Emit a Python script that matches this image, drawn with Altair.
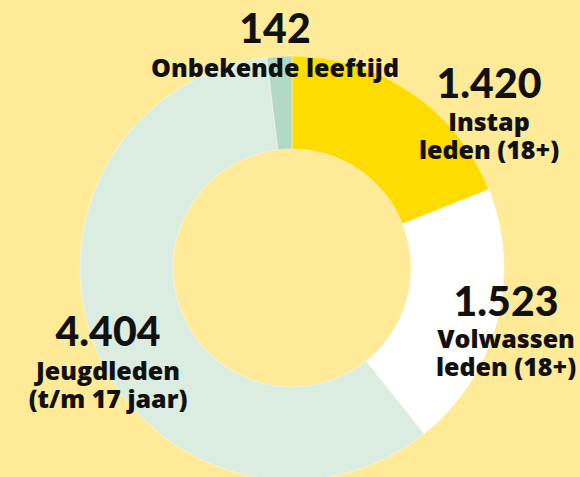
import altair as alt
import pandas as pd

# Data
categories = ["Instap leden (18+)", "Volwassen leden (18+)", "Jeugdleden (t/m 17 jaar)", "Onbekende leeftijd"]
values = [1420, 1523, 4404, 142]
label_lines = [["Instap", "leden (18+)"], ["Volwassen", "leden (18+)"], ["Jeugdleden", "(t/m 17 jaar)"], ["Onbekende leeftijd"]]
colors = ["#FFDC00", "#FFFFFF", "#DBECE1", "#B2D9C6"]

BG = "#FFEA98"
TXT = "#111111"

df = pd.DataFrame({"cat": categories, "value": values, "order": range(len(values))})

arc = alt.Chart(df).mark_arc(outerRadius=212, innerRadius=119, stroke="#FFFFFF", strokeWidth=0.4).encode(
    theta=alt.Theta("value:Q", stack=True),
    order=alt.Order("order:Q"),
    color=alt.Color("cat:N", scale=alt.Scale(domain=categories, range=colors), legend=None),
    x=alt.value(292),
    y=alt.value(268),
)

# label anchor positions (layout only): center x, number baseline, first label baseline
anchors = {
    "Instap leden (18+)": (489, 98, 131),
    "Volwassen leden (18+)": (506, 316, 348),
    "Jeugdleden (t/m 17 jaar)": (108, 346, 380),
    "Onbekende leeftijd": (275, 43, 77),
}
LINE_H = 28

layers = [arc]
for cat, v, lines in zip(categories, values, label_lines):
    cx, ny, ly = anchors[cat]
    num = f"{v:,}".replace(",", ".")
    layers.append(
        alt.Chart(pd.DataFrame({"t": [num]})).mark_text(
            font="Lato", fontSize=41, fontWeight=900, color=TXT, align="center", baseline="alphabetic")
        .encode(text="t:N", x=alt.value(cx), y=alt.value(ny))
    )
    for i, line in enumerate(lines):
        layers.append(
            alt.Chart(pd.DataFrame({"l": [line]})).mark_text(
                font="Open Sans", fontSize=25, fontWeight=800, color=TXT, align="center", baseline="alphabetic")
            .encode(text="l:N", x=alt.value(cx), y=alt.value(ly + i * LINE_H))
        )

chart = alt.layer(*layers).properties(
    width=580, height=477, background=BG, padding=0,
    autosize=alt.AutoSizeParams(type="none"),
).configure_view(stroke=None)

chart.save("out.html", embed_options={"renderer": "svg", "actions": False,
                                      "defaultStyle": "body{margin:0;background:#FFEA98;overflow:hidden}"})
